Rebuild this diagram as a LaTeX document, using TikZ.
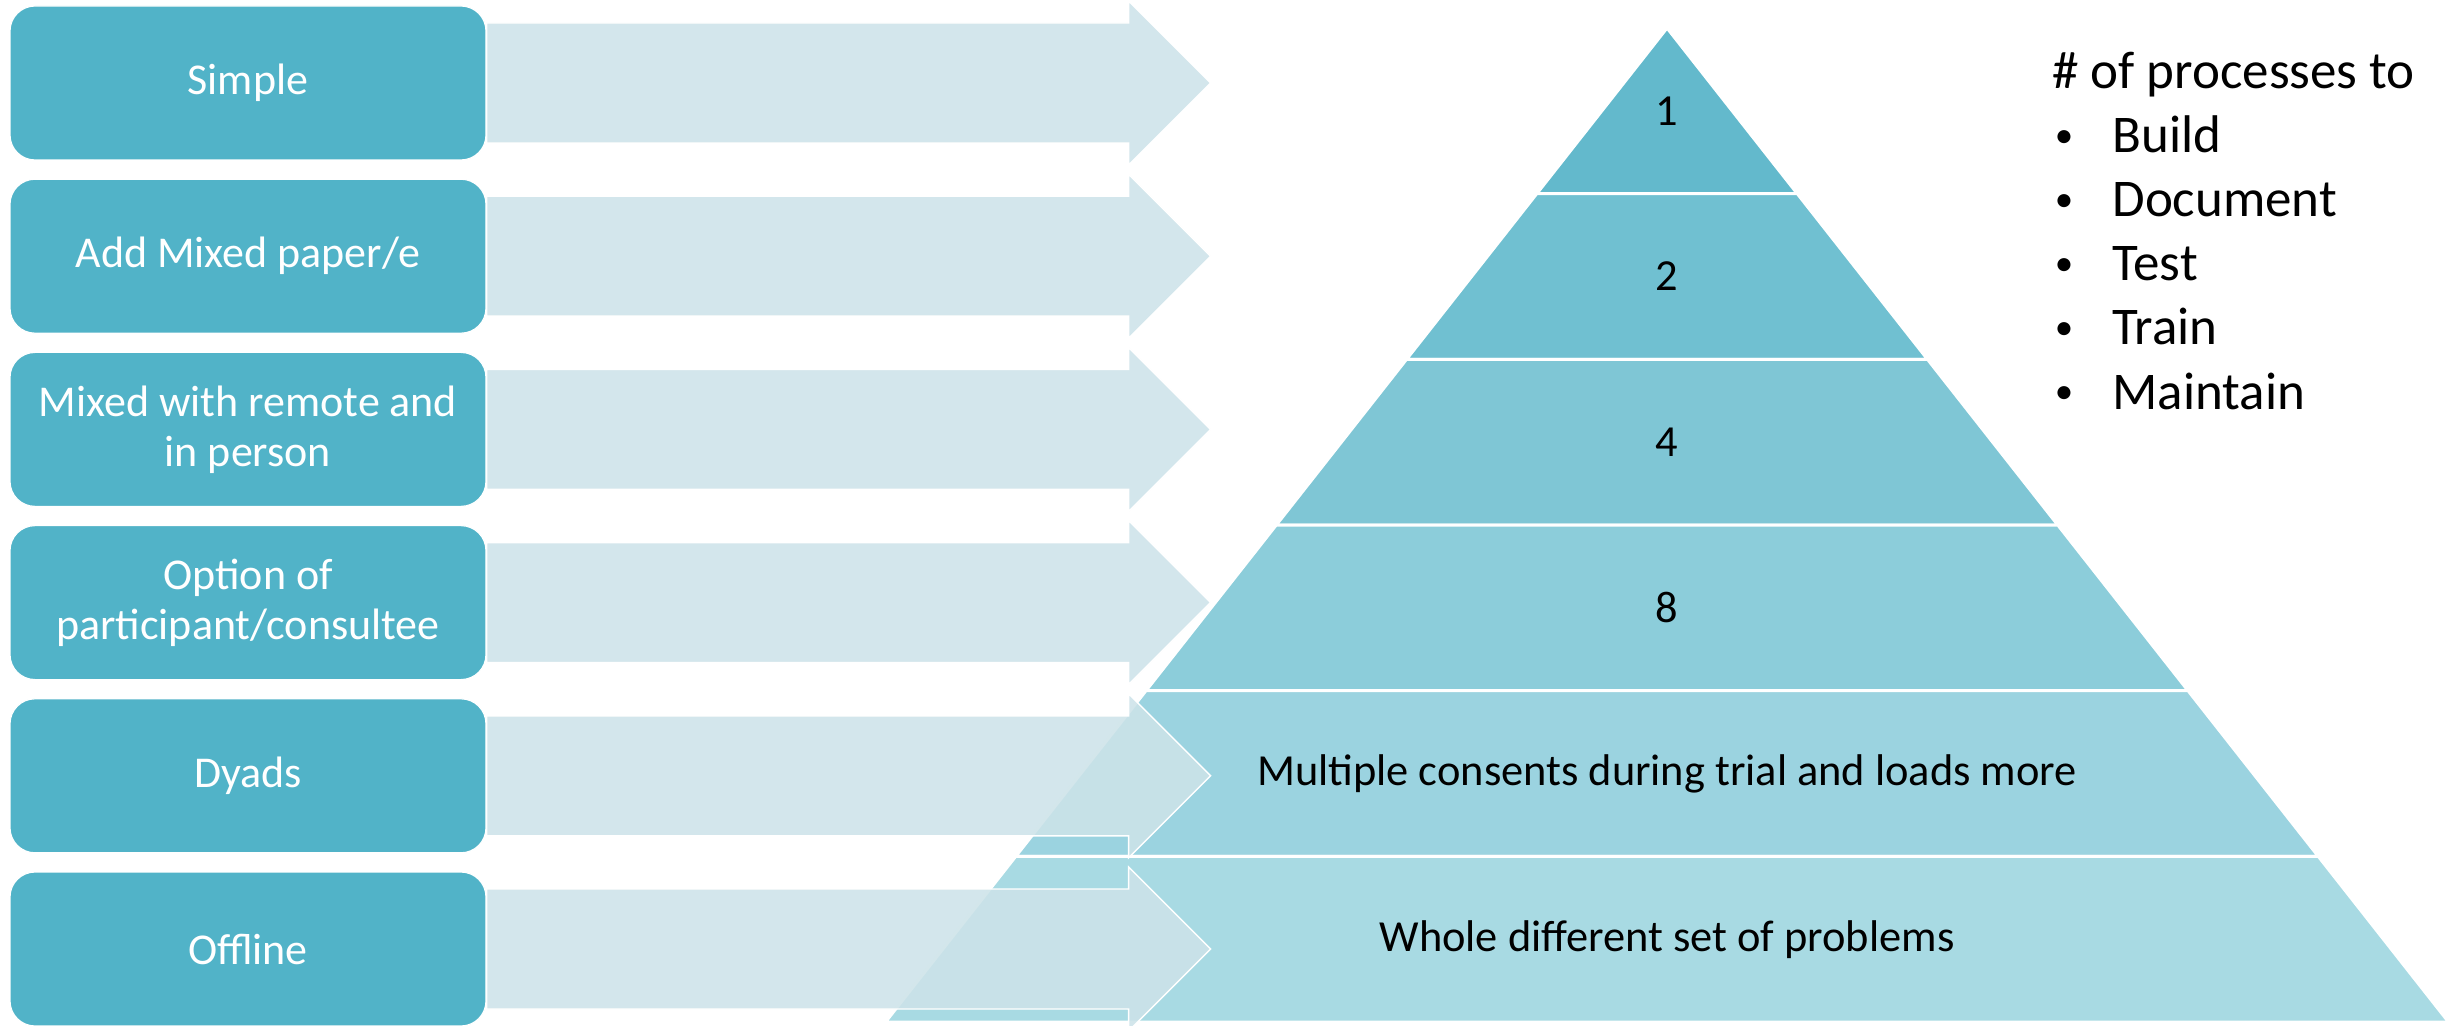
\documentclass[tikz,border=0pt]{standalone}
\usepackage{fontspec}
\setmainfont{Carlito}
\definecolor{boxc}{HTML}{51B3C8}
\definecolor{arrc}{HTML}{CDE3E9}
\definecolor{Lone}{HTML}{63B9CC}
\definecolor{Ltwo}{HTML}{70C0D1}
\definecolor{Lthree}{HTML}{7FC6D5}
\definecolor{Lfour}{HTML}{8CCDDA}
\definecolor{Lfive}{HTML}{9BD3E0}
\definecolor{Lsix}{HTML}{A8DAE3}
\begin{document}
\begin{tikzpicture}[x=0.5pt,y=-0.5pt,
  box/.style={fill=boxc, draw=white, line width=0.6pt, rounded corners=12.5pt,
    minimum width=238pt, minimum height=77pt, text=white, align=center,
    font=\fontsize{22}{25}\selectfont, inner sep=0pt},
  barrow/.style={fill=arrc, fill opacity=0.88, draw=white, line width=0.7pt},
  layer/.style={draw=white, line width=1.5pt},
  lab/.style={font=\fontsize{22.2}{26}\selectfont, text=black, inner sep=0pt},
  lst/.style={font=\fontsize{26.5}{32}\selectfont, anchor=base west, inner sep=0pt},
  bul/.style={font=\fontsize{18.5}{22}\selectfont, anchor=base, inner sep=0pt}]
\useasboundingbox (0,0) rectangle (2450,1026);

% pyramid
\foreach \k/\col/\txt in {1/Lone/1, 2/Ltwo/2, 3/Lthree/4, 4/Lfour/8,
  5/Lfive/Multiple consents during trial and loads more,
  6/Lsix/Whole different set of problems}{
  \pgfmathsetmacro{\ya}{28+(\k-1)*165.667}
  \pgfmathsetmacro{\yb}{28+\k*165.667}
  \pgfmathsetmacro{\ha}{0.78622*(\k-1)*165.667}
  \pgfmathsetmacro{\hb}{0.78622*\k*165.667}
  \pgfmathsetmacro{\ym}{(\ya+\yb)/2}
  \fill[\col, layer] (1667-\ha,\ya) -- (1667+\ha,\ya) -- (1667+\hb,\yb) -- (1667-\hb,\yb) -- cycle;
  \node[lab] (p\k) at (1667,\ym) {\txt};
}

% boxes
\node[box] (b1) at (248,83) {Simple};
\node[box] (b2) at (248,256.2) {Add Mixed paper/e};
\node[box] (b3) at (248,429.4) {Mixed with remote and\\in person};
\node[box] (b4) at (248,602.6) {Option of\\participant/consultee};
\node[box] (b5) at (248,775.8) {Dyads};
\node[box] (b6) at (248,949) {Offline};

% block arrows
\foreach \i in {1,...,6}{
  \draw[barrow, shift={(b\i.east)}] (0,-60) -- (642,-60) -- (642,-82) -- (724,0)
    -- (642,82) -- (642,60) -- (0,60) -- cycle;
}

% list
\node[lst] (title) at (2052,89) {\# of processes to};
\foreach \j/\t in {1/Build,2/Document,3/Test,4/Train,5/Maintain}{
  \node[bul] (bu\j) at (2064,83.6+64*\j) {•};
  \node[lst] (it\j) at (2112,89+64*\j) {\t};
}
\end{tikzpicture}
\end{document}
